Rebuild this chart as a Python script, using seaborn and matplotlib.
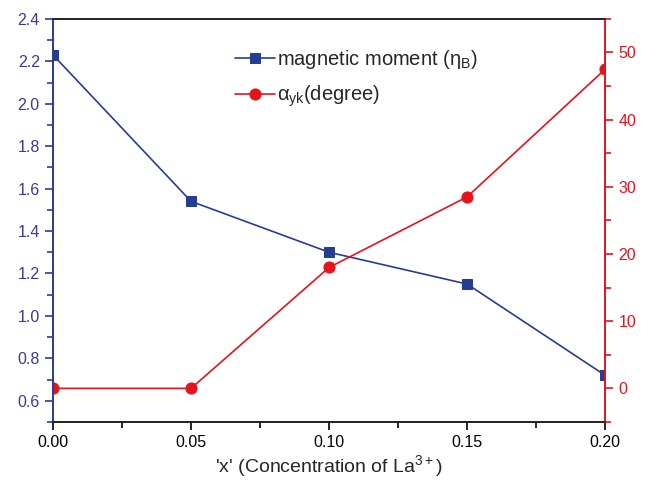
import matplotlib
matplotlib.use("Agg")
import matplotlib.pyplot as plt
import seaborn as sns
import pandas as pd
from matplotlib.ticker import MultipleLocator

x_conc = [0.00, 0.05, 0.10, 0.15, 0.20]
mag_moment = [2.23, 1.54, 1.30, 1.15, 0.72]
alpha_yk = [0.0, 0.0, 18.0, 28.5, 47.5]
x_ticks = [0.00, 0.05, 0.10, 0.15, 0.20]
x_ticklabels = ["0.00", "0.05", "0.10", "0.15", "0.20"]

sns.set_style("ticks")
plt.rcParams['font.family'] = ['Liberation Sans', 'DejaVu Sans']
plt.rcParams['mathtext.fontset'] = 'custom'
plt.rcParams['mathtext.rm'] = 'Liberation Sans'
plt.rcParams['mathtext.it'] = 'Liberation Sans'

blue = "#263d94"
blue_txt = "#3a3a96"
red = "#e5131b"

df = pd.DataFrame({"x": x_conc, "m": mag_moment, "a": alpha_yk})

fig = plt.figure(figsize=(6.48, 4.97), dpi=100)
ax = fig.add_axes([0.0818, 0.151, 0.852, 0.811])
ax2 = ax.twinx()

sns.lineplot(data=df, x="x", y="m", ax=ax, color=blue, marker="s", markersize=7,
             markeredgecolor=blue, linewidth=1.2, label="magnetic moment ($\\eta_{B}$)", legend=False)
sns.lineplot(data=df, x="x", y="a", ax=ax2, color=red, marker="o", markersize=8,
             markeredgecolor=red, linewidth=1.2, label="$\\alpha_{yk}$(degree)", legend=False)

ax.set_xlim(0, 0.2)
ax.set_ylim(0.5, 2.4)
ax2.set_ylim(-5, 55)
ax.set_xticks(x_ticks)
ax.set_xticklabels(x_ticklabels)
ax.xaxis.set_minor_locator(MultipleLocator(0.025))
ax.yaxis.set_minor_locator(MultipleLocator(0.1))
ax2.yaxis.set_minor_locator(MultipleLocator(5))
ax.set_yticks([0.6, 0.8, 1.0, 1.2, 1.4, 1.6, 1.8, 2.0, 2.2, 2.4])
ax2.set_yticks([0, 10, 20, 30, 40, 50])

ax.set_xlabel("'x' (Concentration of La$^{3+}$)", fontsize=14, labelpad=2)
ax.set_ylabel("")
ax2.set_ylabel("")

for a in (ax, ax2):
    for s in a.spines.values():
        s.set_linewidth(1.2)
        s.set_visible(True)
ax.spines['left'].set_color(blue)
ax2.spines['left'].set_color(blue)
ax.spines['right'].set_color(red)
ax2.spines['right'].set_color(red)
ax.spines['top'].set_color("black")
ax.spines['bottom'].set_color("black")

ax.tick_params(axis='x', which='major', direction='out', length=6, width=1.2, colors='black', labelsize=11.5)
ax.tick_params(axis='x', which='minor', direction='out', length=4, width=1.2, colors='black')
ax.tick_params(axis='y', which='major', direction='out', length=6, width=1.2, color=blue, labelcolor=blue_txt, labelsize=11.5)
ax.tick_params(axis='y', which='minor', direction='out', length=4, width=1.2, color=blue)
ax2.tick_params(axis='y', which='major', direction='out', length=6, width=1.2, color=red, labelcolor=red, labelsize=11.5)
ax2.tick_params(axis='y', which='minor', direction='out', length=4, width=1.2, color=red)

h1, l1 = ax.get_legend_handles_labels()
h2, l2 = ax2.get_legend_handles_labels()
ax2.legend(h1 + h2, l1 + l2, loc='upper left', bbox_to_anchor=(0.33, 0.927), frameon=False,
           borderaxespad=0, borderpad=0,
           fontsize=14.5, handlelength=2.0, handletextpad=0.1, labelspacing=0.6)

fig.savefig("out.png", dpi=100)
